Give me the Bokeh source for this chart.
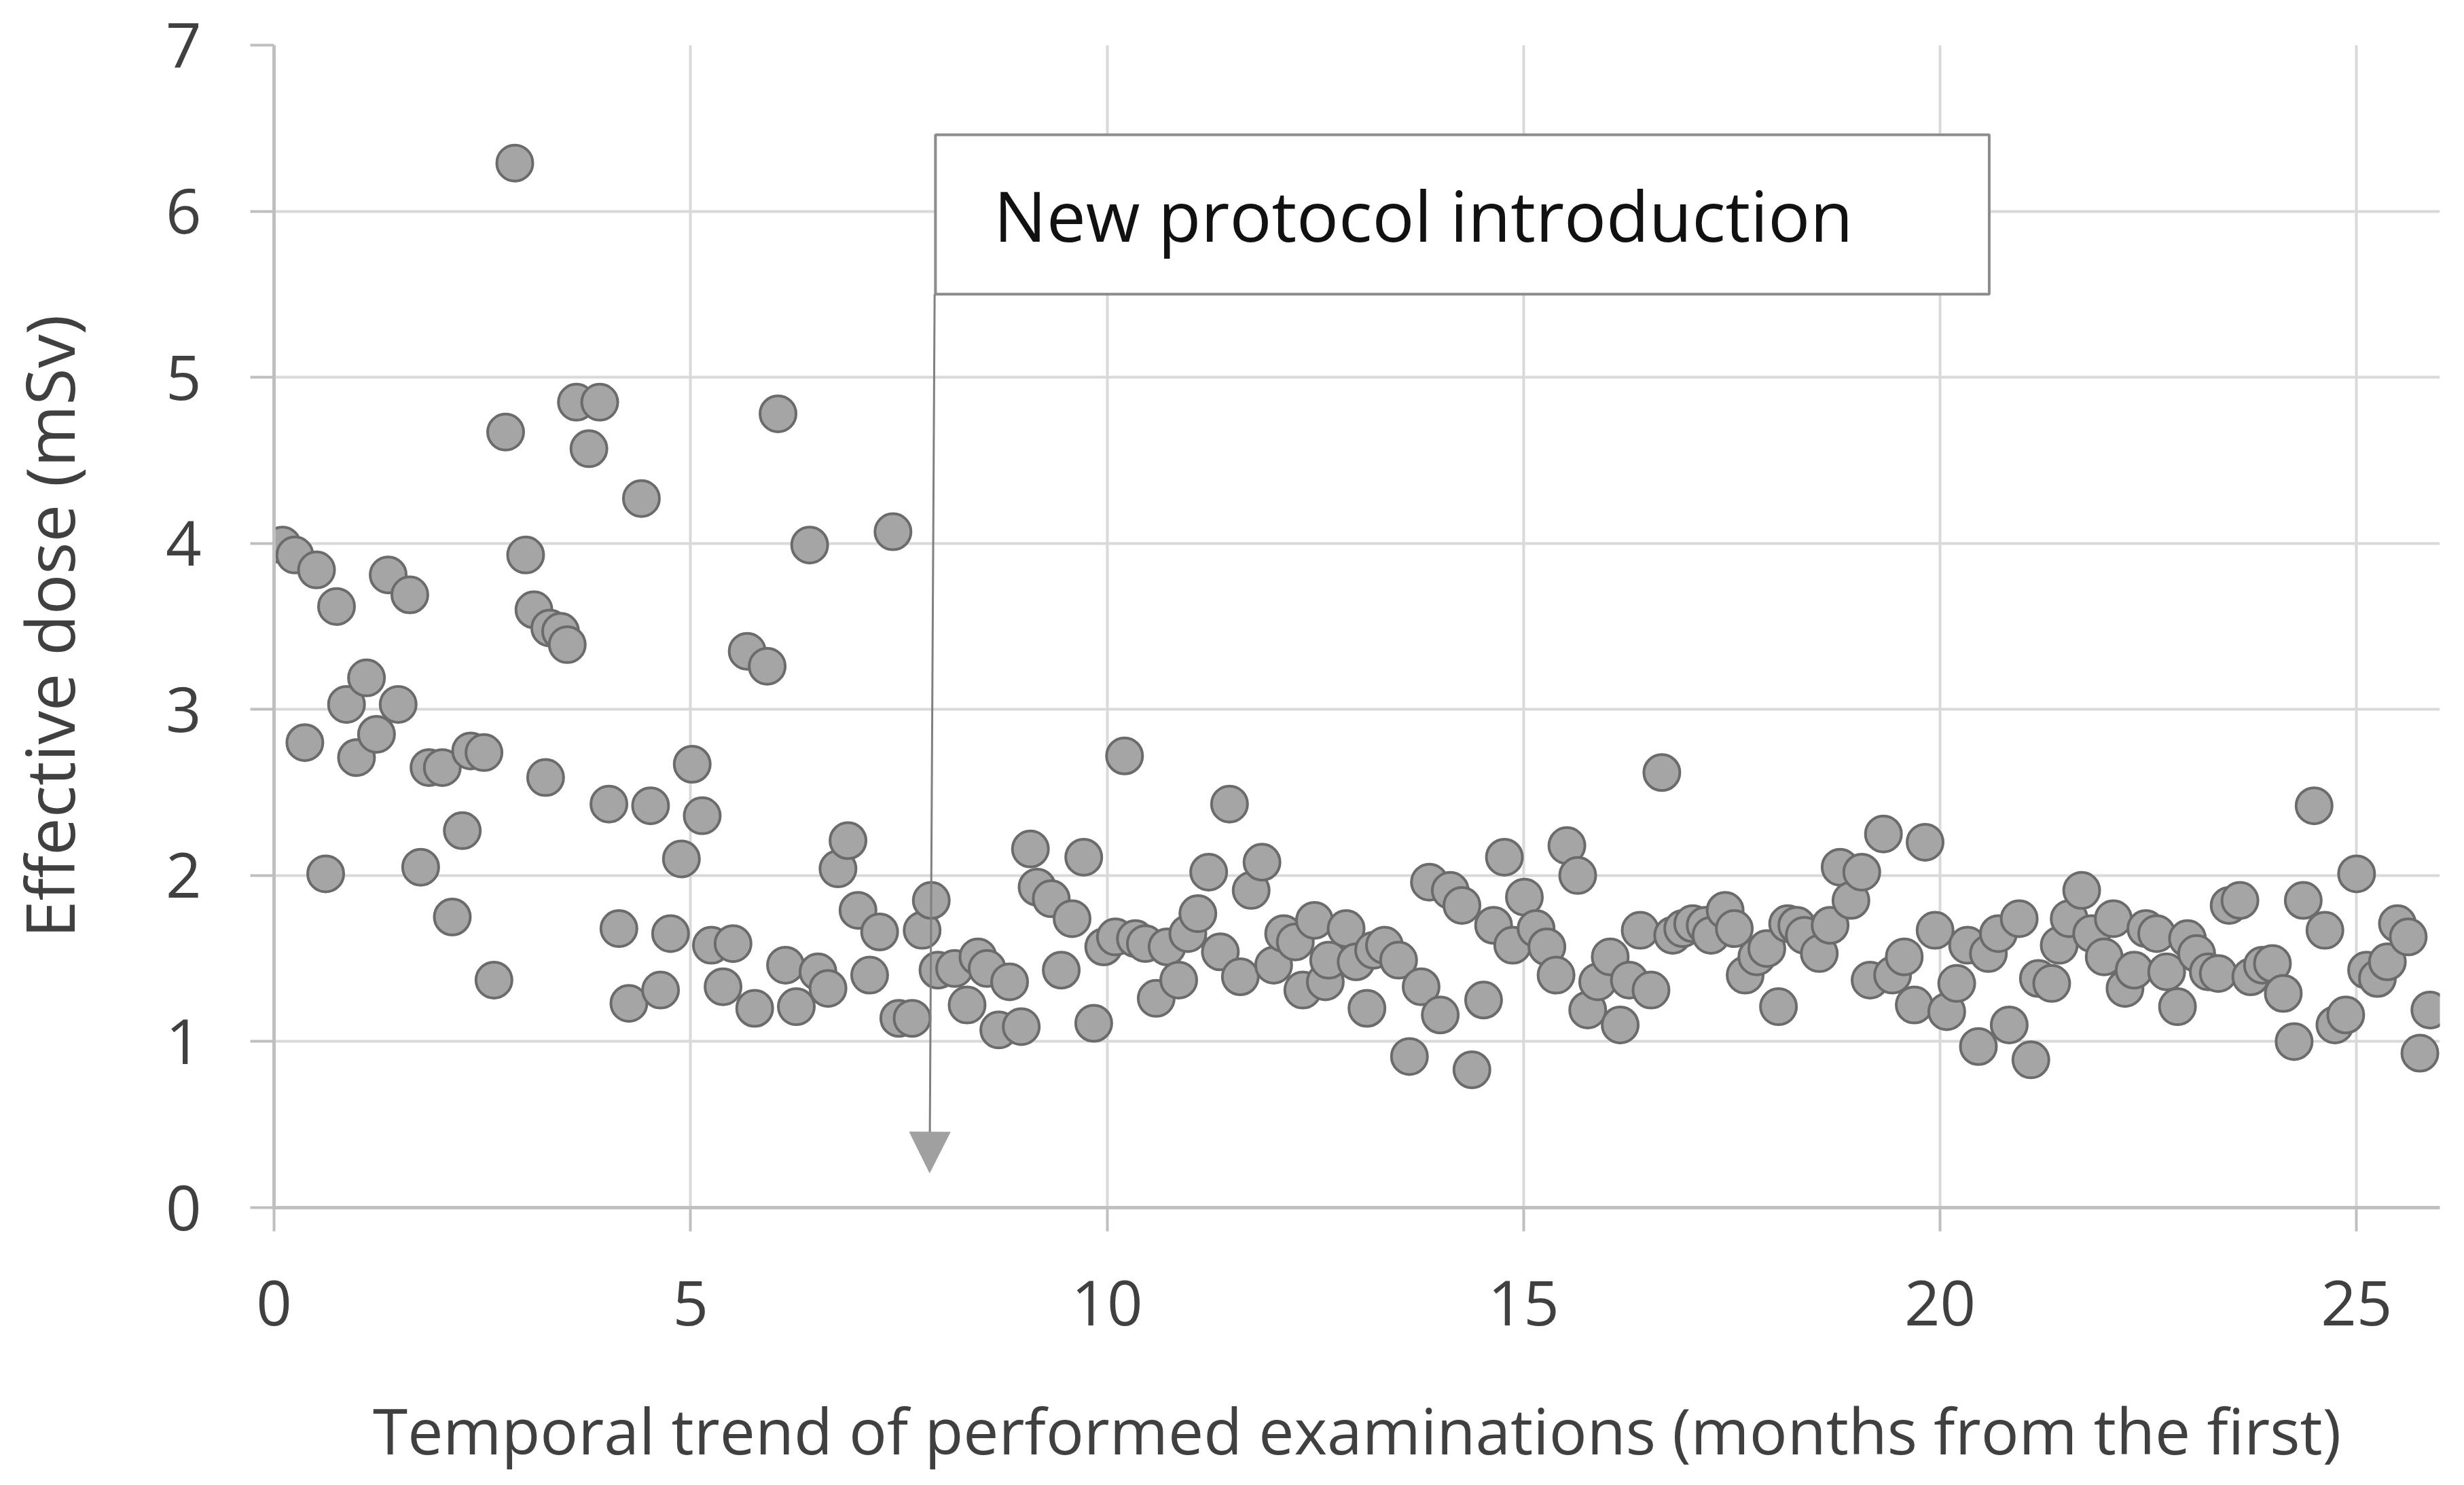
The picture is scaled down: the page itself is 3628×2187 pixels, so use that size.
from bokeh.plotting import figure
from bokeh.models import Range1d, FixedTicker, BoxAnnotation, Label, Arrow, NormalHead
from bokeh.embed import file_html
from bokeh.resources import INLINE

# ---- data ----
months = [
    0.10, 0.25, 0.37, 0.51, 0.62, 0.75, 0.87, 0.99, 1.11, 1.23,
    1.37, 1.49, 1.63, 1.76, 1.86, 2.02, 2.14, 2.26, 2.36, 2.52,
    2.64, 2.78, 2.89, 3.02, 3.12, 3.26, 3.31, 3.44, 3.52, 3.63,
    3.78, 3.91, 4.02, 4.14, 4.26, 4.41, 4.52, 4.64, 4.76, 4.89,
    5.02, 5.14, 5.25, 5.39, 5.51, 5.68, 5.77, 5.92, 6.05, 6.14,
    6.27, 6.43, 6.53, 6.65, 6.77, 6.89, 7.01, 7.15, 7.27, 7.43,
    7.50, 7.66, 7.78, 7.89, 7.97, 8.17, 8.32, 8.45, 8.56, 8.70,
    8.83, 8.97, 9.08, 9.16, 9.33, 9.45, 9.58, 9.72, 9.84, 9.96,
    10.10, 10.21, 10.34, 10.46, 10.59, 10.72, 10.86, 10.97, 11.09, 11.22,
    11.36, 11.47, 11.60, 11.73, 11.86, 12.00, 12.12, 12.26, 12.35, 12.49,
    12.62, 12.66, 12.87, 12.99, 13.12, 13.20, 13.33, 13.50, 13.63, 13.77,
    13.87, 14.00, 14.12, 14.26, 14.38, 14.52, 14.64, 14.77, 14.87, 15.01,
    15.15, 15.28, 15.39, 15.52, 15.65, 15.77, 15.89, 16.04, 16.16, 16.27,
    16.40, 16.53, 16.66, 16.79, 16.91, 17.03, 17.18, 17.25, 17.42, 17.53,
    17.66, 17.80, 17.92, 18.06, 18.17, 18.28, 18.37, 18.55, 18.68, 18.80,
    18.93, 19.06, 19.16, 19.32, 19.43, 19.57, 19.69, 19.82, 19.94, 20.08,
    20.20, 20.33, 20.46, 20.58, 20.70, 20.83, 20.95, 21.09, 21.18, 21.34,
    21.43, 21.55, 21.70, 21.82, 21.97, 22.08, 22.22, 22.33, 22.47, 22.60,
    22.72, 22.85, 22.97, 23.08, 23.22, 23.34, 23.47, 23.60, 23.73, 23.87,
    23.99, 24.12, 24.25, 24.36, 24.49, 24.62, 24.74, 24.87, 25.00, 25.12,
    25.25, 25.37, 25.49, 25.62, 25.76, 25.88,
]
dose_msv = [
    3.99, 3.93, 2.80, 3.84, 2.01, 3.62, 3.03, 2.71, 3.19, 2.85,
    3.81, 3.03, 3.69, 2.05, 2.65, 2.65, 1.75, 2.27, 2.75, 2.74,
    1.37, 4.67, 6.29, 3.93, 3.60, 2.59, 3.49, 3.47, 3.39, 4.85,
    4.57, 4.85, 2.43, 1.68, 1.23, 4.27, 2.42, 1.31, 1.65, 2.10,
    2.67, 2.36, 1.58, 1.33, 1.59, 3.35, 1.20, 3.26, 4.78, 1.46,
    1.21, 3.99, 1.42, 1.32, 2.04, 2.21, 1.79, 1.40, 1.66, 4.07,
    1.14, 1.14, 1.67, 1.85, 1.43, 1.44, 1.22, 1.51, 1.44, 1.07,
    1.36, 1.09, 2.16, 1.93, 1.86, 1.43, 1.74, 2.11, 1.11, 1.57,
    1.63, 2.72, 1.62, 1.59, 1.26, 1.57, 1.37, 1.65, 1.77, 2.02,
    1.54, 2.43, 1.39, 1.91, 2.08, 1.46, 1.65, 1.60, 1.31, 1.73,
    1.36, 1.49, 1.68, 1.48, 1.20, 1.55, 1.58, 1.49, 0.91, 1.33,
    1.96, 1.16, 1.91, 1.82, 0.83, 1.25, 1.70, 2.11, 1.58, 1.87,
    1.68, 1.57, 1.40, 2.18, 2.00, 1.19, 1.36, 1.51, 1.10, 1.37,
    1.67, 1.31, 2.62, 1.64, 1.68, 1.71, 1.70, 1.64, 1.79, 1.68,
    1.40, 1.51, 1.56, 1.21, 1.71, 1.70, 1.64, 1.53, 1.70, 2.05,
    1.85, 2.02, 1.37, 2.25, 1.40, 1.51, 1.22, 2.20, 1.67, 1.18,
    1.35, 1.58, 0.97, 1.53, 1.65, 1.10, 1.74, 0.89, 1.38, 1.35,
    1.58, 1.74, 1.91, 1.65, 1.51, 1.74, 1.32, 1.43, 1.68, 1.65,
    1.42, 1.21, 1.62, 1.53, 1.42, 1.41, 1.82, 1.85, 1.39, 1.46,
    1.47, 1.29, 1.00, 1.85, 2.42, 1.67, 1.10, 1.16, 2.01, 1.43,
    1.38, 1.48, 1.71, 1.63, 0.93, 1.19,
]
x_ticks = [0, 5, 10, 15, 20, 25]
y_ticks = [0, 1, 2, 3, 4, 5, 6, 7]
x_title = "Temporal trend of performed examinations (months from the first)"
y_title = "Effective dose (mSv)"
note_text = "New protocol introduction"
# annotation box and arrow (data units)
note_left, note_right, note_bottom, note_top = 7.94, 20.59, 5.50, 6.46
arrow_x0, arrow_y0, arrow_x1, arrow_y1 = 7.93, 5.50, 7.87, 0.21

FONT = "Open Sans"
GRID = "#d9d9d9"
AXIS = "#bfbfbf"
TXT = "#404040"

p = figure(width=3612, height=2171, output_backend="svg", toolbar_location=None,
           x_range=Range1d(0, 26), y_range=Range1d(0, 7),
           min_border_left=396, min_border_right=20, min_border_top=66,
           min_border_bottom=386)
p.outline_line_color = None
p.background_fill_color = "white"
p.border_fill_color = "white"

for ax in (p.xaxis[0], p.yaxis[0]):
    ax.axis_line_color = AXIS
    ax.axis_line_width = 5
    ax.major_tick_line_color = AXIS
    ax.major_tick_line_width = 4
    ax.major_tick_out = 35
    ax.major_tick_in = 0
    ax.minor_tick_line_color = None
    ax.major_label_text_font = FONT
    ax.major_label_text_font_size = "92px"
    ax.major_label_text_color = TXT
    ax.major_label_standoff = 72
    ax.axis_label_text_font = FONT
    ax.axis_label_text_font_style = "normal"
    ax.axis_label_text_color = TXT

p.xaxis.ticker = FixedTicker(ticks=x_ticks)
p.yaxis.ticker = FixedTicker(ticks=y_ticks)
p.xaxis.axis_label = x_title
p.yaxis.axis_label = y_title
p.xaxis.axis_label_text_font_size = "93px"
p.yaxis.axis_label_text_font_size = "99px"
p.xaxis.axis_label_standoff = 88
p.yaxis.axis_label_standoff = 102

p.xgrid.ticker = FixedTicker(ticks=x_ticks)
p.ygrid.ticker = FixedTicker(ticks=y_ticks)
p.grid.grid_line_color = GRID
p.grid.grid_line_width = 4

p.scatter(months, dose_msv, size=53, fill_color="#a5a5a5", line_color="#6b6b6b",
          line_width=4, marker="circle")

box = BoxAnnotation(left=note_left, right=note_right, bottom=note_bottom, top=note_top,
                    fill_color="white", fill_alpha=1.0, line_color="#8c8c8c",
                    line_width=4, line_alpha=1.0)
p.add_layout(box)

p.add_layout(Label(x=note_left, y=(note_bottom + note_top) / 2, x_offset=86,
                   text=note_text, text_font=FONT, text_font_size="103px",
                   text_color="#111111", text_baseline="middle", text_align="left"))

p.add_layout(Arrow(end=NormalHead(size=60, fill_color="#a0a0a0", line_color="#a0a0a0"),
                   x_start=arrow_x0, y_start=arrow_y0, x_end=arrow_x1, y_end=arrow_y1,
                   line_color="#808080", line_width=3))

open("out.html", "w").write(file_html(p, INLINE))
